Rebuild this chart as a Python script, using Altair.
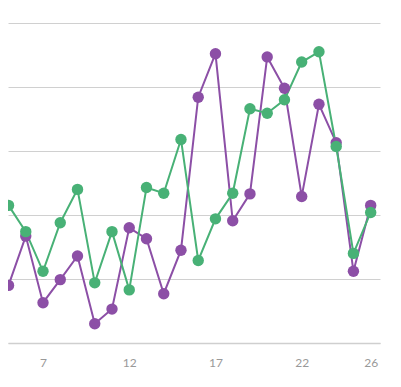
import altair as alt
import pandas as pd

x_vals = list(range(4, 27))
purple = [6.8, 9.0, 16.7, 6.3, 9.9, 13.6, 3.0, 5.3, 18.0, 16.3, 7.7, 14.5, 38.4,
          45.2, 19.1, 23.3, 44.7, 39.8, 22.9, 37.3, 31.3, 11.2, 21.5]
green = [13.2, 21.5, 17.4, 11.2, 18.8, 24.0, 9.4, 17.4, 8.3, 24.3, 23.4, 31.8, 12.9,
         19.4, 23.4, 36.6, 35.9, 38.0, 43.9, 45.5, 30.7, 14.0, 20.4]
series_names = ["A", "B"]
x_ticks = [7, 12, 17, 22, 26]
y_ticks = [0, 10, 20, 30, 40, 50]

rows = []
for name, vals in zip(series_names, [purple, green]):
    for xv, v in zip(x_vals, vals):
        rows.append({"series": name, "x": xv, "value": v})
df = pd.DataFrame(rows)

x_enc = alt.X("x:Q", scale=alt.Scale(domain=[4.97, 26.54], nice=False, zero=False),
              axis=alt.Axis(values=x_ticks, grid=False, ticks=False, labelPadding=14,
                            domainColor="#cfcfcf", domainWidth=1.5, title=None,
                            labelColor="#999999", labelFontSize=12, labelFont="Lato"))
y_enc = alt.Y("value:Q", scale=alt.Scale(domain=[0, 50], nice=False),
              axis=alt.Axis(values=y_ticks, labels=False, ticks=False, domain=False,
                            title=None, gridColor="#d0d0d0", gridWidth=1))
color = alt.Color("series:N", scale=alt.Scale(domain=series_names, range=["#8c4fa6", "#48b176"]),
                  legend=None)

base = alt.Chart(df).encode(x=x_enc, y=y_enc, color=color, detail="series:N")
lines = base.mark_line(strokeWidth=2, clip=True)
points = base.mark_circle(size=130, opacity=1, clip=False)

chart = alt.layer(lines, points).properties(
    width=372, height=320,
    autosize=alt.AutoSizeParams(type="none"),
    padding={"left": 0, "top": 15, "right": 13, "bottom": 44},
    background="white",
).configure_view(stroke=None, strokeWidth=0)

chart.save("out.html", embed_options={"renderer": "svg", "actions": False})
